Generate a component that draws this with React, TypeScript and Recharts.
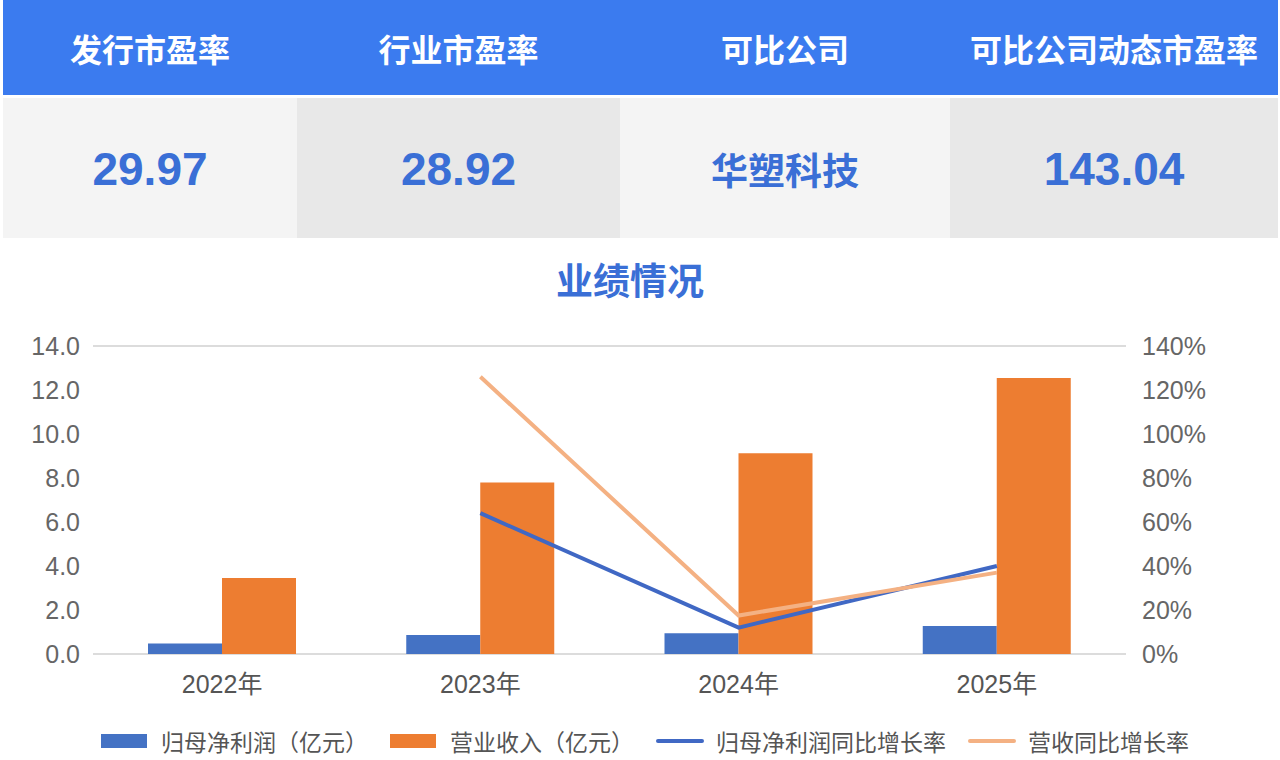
import React from "react";
import {
  ComposedChart,
  Bar,
  Line,
  XAxis,
  YAxis,
  CartesianGrid,
  Legend,
} from "recharts";

const headers = ["发行市盈率", "行业市盈率", "可比公司", "可比公司动态市盈率"];
const cellValues = ["29.97", "28.92", "华塑科技", "143.04"];

const years = ["2022年", "2023年", "2024年", "2025年"];
const netProfit = [0.48, 0.86, 0.94, 1.27]; // 归母净利润（亿元）
const revenue = [3.45, 7.8, 9.12, 12.55]; // 营业收入（亿元）
const profitGrowth = [null, 64, 12, 40]; // 归母净利润同比增长率 %
const revenueGrowth = [null, 126, 17.5, 37]; // 营收同比增长率 %

const leftTicks = [0, 2, 4, 6, 8, 10, 12, 14];
const rightTicks = [0, 20, 40, 60, 80, 100, 120, 140];

const COLORS = {
  header: "#3b7bef",
  value: "#3a6fd6",
  barBlue: "#4472c4",
  barOrange: "#ed7d31",
  lineBlue: "#4068c4",
  lineOrange: "#f4b183",
};

const FONT = '"Liberation Sans", Arial, "Noto Sans CJK SC", sans-serif';

const chartData = years.map((y, i) => ({
  year: y,
  netProfit: netProfit[i],
  revenue: revenue[i],
  profitGrowth: profitGrowth[i],
  revenueGrowth: revenueGrowth[i],
}));

const legendItems = [
  { name: "归母净利润（亿元）", color: COLORS.barBlue, type: "rect" },
  { name: "营业收入（亿元）", color: COLORS.barOrange, type: "rect" },
  { name: "归母净利润同比增长率", color: COLORS.lineBlue, type: "line" },
  { name: "营收同比增长率", color: COLORS.lineOrange, type: "line" },
];

const colBounds = [
  [3, 297],
  [297, 620],
  [620, 950],
  [950, 1278],
];

function renderLegend() {
  return (
    <div
      style={{
        display: "flex",
        justifyContent: "center",
        alignItems: "center",
        gap: 22,
        fontFamily: FONT,
        fontSize: 23,
        color: "#555",
      }}
    >
      {legendItems.map((it) => (
        <div key={it.name} style={{ display: "flex", alignItems: "center" }}>
          {it.type === "rect" ? (
            <div style={{ width: 46, height: 14, background: it.color, marginRight: 14 }} />
          ) : (
            <div
              style={{
                width: 48,
                height: 4,
                borderRadius: 2,
                background: it.color,
                marginRight: 12,
              }}
            />
          )}
          <span>{it.name}</span>
        </div>
      ))}
    </div>
  );
}

export default function App() {
  return (
    <div
      style={{
        position: "fixed",
        left: 0,
        top: 0,
        width: 1280,
        height: 760,
        background: "#fff",
        fontFamily: FONT,
        overflow: "hidden",
      }}
    >
      {/* header row */}
      <div
        style={{
          position: "absolute",
          left: 3,
          top: 0,
          width: 1275,
          height: 95,
          background: COLORS.header,
        }}
      />
      {headers.map((h, i) => (
        <div
          key={h}
          style={{
            position: "absolute",
            left: colBounds[i][0],
            width: colBounds[i][1] - colBounds[i][0],
            top: 0,
            height: 95,
            display: "flex",
            alignItems: "center",
            justifyContent: "center",
            color: "#fff",
            fontWeight: 700,
            fontSize: 32,
          }}
        >
          {h}
        </div>
      ))}
      {cellValues.map((v, i) => (
        <div
          key={v}
          style={{
            position: "absolute",
            left: colBounds[i][0],
            width: colBounds[i][1] - colBounds[i][0],
            top: 98,
            height: 140,
            background: i % 2 === 0 ? "#f4f4f4" : "#e8e8e8",
            display: "flex",
            alignItems: "center",
            justifyContent: "center",
            color: COLORS.value,
            fontWeight: 700,
            fontSize: i === 2 ? 37 : 46,
            paddingTop: 2,
            boxSizing: "border-box",
          }}
        >
          {v}
        </div>
      ))}

      {/* title */}
      <div
        style={{
          position: "absolute",
          left: 0,
          width: 1260,
          top: 252,
          textAlign: "center",
          color: COLORS.value,
          fontWeight: 700,
          fontSize: 37,
        }}
      >
        业绩情况
      </div>

      <div style={{ position: "absolute", left: 0, top: 300 }}>
        <ComposedChart
          width={1280}
          height={460}
          data={chartData}
          margin={{ top: 46, right: 84, bottom: 32, left: 0 }}
          barGap={0}
          barCategoryGap="21%"
        >
          <CartesianGrid vertical={false} stroke="#dcdcdc" strokeWidth={2} />
          <XAxis
            dataKey="year"
            axisLine={false}
            tickLine={false}
            height={40}
            tickMargin={15}
            tick={{ fill: "#555", fontSize: 25, fontFamily: FONT }}
          />
          <YAxis
            yAxisId="left"
            domain={[0, 14]}
            ticks={leftTicks}
            width={93}
            axisLine={false}
            tickLine={false}
            tickMargin={7}
            tickFormatter={(v: number) => v.toFixed(1)}
            tick={{ fill: "#666", fontSize: 25, fontFamily: FONT }}
          />
          <YAxis
            yAxisId="right"
            orientation="right"
            domain={[0, 140]}
            ticks={rightTicks}
            width={70}
            axisLine={false}
            tickLine={false}
            tickMargin={10}
            tickFormatter={(v: number) => `${v}%`}
            tick={{ fill: "#666", fontSize: 25, fontFamily: FONT }}
          />
          <Bar
            yAxisId="left"
            dataKey="netProfit"
            name="归母净利润（亿元）"
            fill={COLORS.barBlue}
            barSize={74}
            isAnimationActive={false}
          />
          <Bar
            yAxisId="left"
            dataKey="revenue"
            name="营业收入（亿元）"
            fill={COLORS.barOrange}
            barSize={74}
            isAnimationActive={false}
          />
          <Line
            yAxisId="right"
            dataKey="profitGrowth"
            name="归母净利润同比增长率"
            stroke={COLORS.lineBlue}
            strokeWidth={4}
            dot={false}
            type="linear"
            isAnimationActive={false}
          />
          <Line
            yAxisId="right"
            dataKey="revenueGrowth"
            name="营收同比增长率"
            stroke={COLORS.lineOrange}
            strokeWidth={4}
            dot={false}
            type="linear"
            isAnimationActive={false}
          />
          <Legend
            content={renderLegend}
            wrapperStyle={{ top: 424, left: 10, width: 1270 }}
          />
        </ComposedChart>
      </div>
    </div>
  );
}
